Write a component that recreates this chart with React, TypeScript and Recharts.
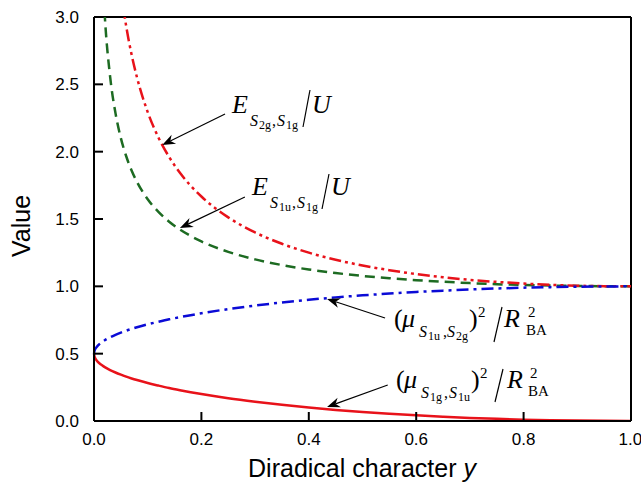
import React from "react";
import { LineChart, Line, XAxis, YAxis, ReferenceLine } from "recharts";

// diradical character y
const ys = [0, 0.001, 0.002, 0.005, 0.01, 0.015, 0.02, 0.03, 0.04, 0.05, 0.06, 0.07, 0.08, 0.1, 0.12, 0.14, 0.16, 0.18, 0.2, 0.25, 0.3, 0.35, 0.4, 0.45, 0.5, 0.55, 0.6, 0.65, 0.7, 0.75, 0.8, 0.85, 0.9, 0.95, 1.0];

// (mu S1g,S1u)^2 / R^2  (red solid)
const muGU = [0.5, 0.478, 0.468, 0.45, 0.429, 0.414, 0.4, 0.378, 0.36, 0.344, 0.329, 0.316, 0.304, 0.282, 0.263, 0.245, 0.229, 0.214, 0.2, 0.169, 0.143, 0.12, 0.1, 0.082, 0.067, 0.054, 0.042, 0.032, 0.023, 0.016, 0.01, 0.006, 0.003, 0.001, 0];
// (mu S1u,S2g)^2 / R^2  (blue dash-dot)
const muUG = [0.5, 0.522, 0.532, 0.55, 0.571, 0.586, 0.6, 0.622, 0.64, 0.656, 0.671, 0.684, 0.696, 0.718, 0.737, 0.755, 0.771, 0.786, 0.8, 0.831, 0.857, 0.88, 0.9, 0.918, 0.933, 0.946, 0.958, 0.968, 0.977, 0.984, 0.99, 0.994, 0.997, 0.999, 1.0];
// E S1u,S1g / U  (green dashed)
const eS1u = [null, null, null, null, null, 3.398, 3.013, 2.557, 2.286, 2.101, 1.966, 1.86, 1.776, 1.647, 1.553, 1.48, 1.422, 1.374, 1.333, 1.256, 1.2, 1.158, 1.125, 1.099, 1.077, 1.06, 1.046, 1.034, 1.024, 1.016, 1.01, 1.006, 1.003, 1.001, 1.0];
// E S2g,S1g / U  (red dash-dot-dot)
const eS2g = [null, null, null, null, null, null, null, null, 3.571, 3.203, 2.931, 2.721, 2.552, 2.294, 2.105, 1.96, 1.843, 1.747, 1.667, 1.512, 1.4, 1.316, 1.25, 1.197, 1.155, 1.12, 1.091, 1.068, 1.048, 1.033, 1.021, 1.011, 1.005, 1.001, 1.0];

const xTicks = [0, 0.2, 0.4, 0.6, 0.8, 1.0];
const yTicks = [0, 0.5, 1.0, 1.5, 2.0, 2.5, 3.0];

// annotation arrows, [fromX, fromY, toX, toY] in data units
const arrows = [
  [0.244, 2.28, 0.127, 2.05],
  [0.281, 1.663, 0.16, 1.433],
  [0.542, 0.765, 0.434, 0.906],
  [0.547, 0.267, 0.434, 0.104],
];

const rows = ys.map((y, i) => ({ y, muGU: muGU[i], muUG: muUG[i], eS1u: eS1u[i], eS2g: eS2g[i] }));

const RED = "#e8121a";
const GREEN = "#1d6b22";
const BLUE = "#0b0bd6";
const SANS = "'Liberation Sans', Arial, sans-serif";
const SERIF = "'Liberation Serif', 'Times New Roman', serif";

const ArrowShape = (p: any) => {
  const { x1, y1, x2, y2 } = p;
  const a = Math.atan2(y2 - y1, x2 - x1);
  const L = 13, W = 5, N = 9;
  const bx = x2 - L * Math.cos(a), by = y2 - L * Math.sin(a);
  const nx = x2 - N * Math.cos(a), ny = y2 - N * Math.sin(a);
  const px = -Math.sin(a) * W, py = Math.cos(a) * W;
  return (
    <g>
      <line x1={x1} y1={y1} x2={nx} y2={ny} stroke="#000" strokeWidth={1.2} />
      <polygon points={`${x2},${y2} ${bx + px},${by + py} ${nx},${ny} ${bx - px},${by - py}`} fill="#000" />
    </g>
  );
};

const it = { fontFamily: SERIF, fontStyle: "italic" as const };
const rm = { fontFamily: SERIF };

function Annotations() {
  return (
    <svg width={641} height={485} style={{ position: "absolute", left: 0, top: 0, pointerEvents: "none" }}>
      {/* axis titles */}
      <text x={362} y={477} textAnchor="middle" fontFamily={SANS} fontSize={25} fill="#000">
        Diradical character <tspan fontStyle="italic">y</tspan>
      </text>
      <text x={0} y={0} transform="translate(30 226) rotate(-90)" textAnchor="middle" fontFamily={SANS} fontSize={25} fill="#000">Value</text>

      {/* E S2g,S1g / U */}
      <g fill="#000">
        <text x={232} y={113} fontSize={26} {...it}>E</text>
        <text x={250} y={126} fontSize={16} {...it}>S</text>
        <text x={259} y={129} fontSize={12} {...rm}>2g</text>
        <text x={272} y={126} fontSize={16} {...rm}>,</text>
        <text x={277} y={126} fontSize={16} {...it}>S</text>
        <text x={286} y={129} fontSize={12} {...rm}>1g</text>
        <line x1={310} y1={90} x2={303} y2={127} stroke="#000" strokeWidth={1.2} />
        <text x={312} y={113} fontSize={26} {...it}>U</text>
      </g>

      {/* E S1u,S1g / U */}
      <g fill="#000">
        <text x={252} y={195} fontSize={26} {...it}>E</text>
        <text x={270} y={208} fontSize={16} {...it}>S</text>
        <text x={279} y={211} fontSize={12} {...rm}>1u</text>
        <text x={292} y={208} fontSize={16} {...rm}>,</text>
        <text x={297} y={208} fontSize={16} {...it}>S</text>
        <text x={306} y={211} fontSize={12} {...rm}>1g</text>
        <line x1={329} y1={174} x2={322} y2={209} stroke="#000" strokeWidth={1.2} />
        <text x={331} y={195} fontSize={26} {...it}>U</text>
      </g>

      {/* (mu S1u,S2g)^2 / R_BA^2 */}
      <g fill="#000">
        <text x={394} y={327} fontSize={26} {...rm}>(</text>
        <text x={402} y={327} fontSize={26} {...it}>μ</text>
        <text x={419} y={337} fontSize={16} {...it}>S</text>
        <text x={428} y={340} fontSize={12} {...rm}>1u</text>
        <text x={443} y={337} fontSize={16} {...rm}>,</text>
        <text x={447} y={337} fontSize={16} {...it}>S</text>
        <text x={456} y={340} fontSize={12} {...rm}>2g</text>
        <text x={469} y={327} fontSize={26} {...rm}>)</text>
        <text x={478} y={317} fontSize={15} {...rm}>2</text>
        <line x1={502} y1={307} x2={494} y2={342} stroke="#000" strokeWidth={1.2} />
        <text x={504} y={327} fontSize={26} {...it}>R</text>
        <text x={528} y={317} fontSize={15} {...rm}>2</text>
        <text x={526} y={335} fontSize={15} {...rm}>BA</text>
      </g>

      {/* (mu S1g,S1u)^2 / R_BA^2 */}
      <g fill="#000">
        <text x={396} y={388} fontSize={26} {...rm}>(</text>
        <text x={404} y={388} fontSize={26} {...it}>μ</text>
        <text x={421} y={398} fontSize={16} {...it}>S</text>
        <text x={430} y={401} fontSize={12} {...rm}>1g</text>
        <text x={444} y={398} fontSize={16} {...rm}>,</text>
        <text x={449} y={398} fontSize={16} {...it}>S</text>
        <text x={458} y={401} fontSize={12} {...rm}>1u</text>
        <text x={471} y={388} fontSize={26} {...rm}>)</text>
        <text x={480} y={378} fontSize={15} {...rm}>2</text>
        <line x1={503} y1={369} x2={495} y2={402} stroke="#000" strokeWidth={1.2} />
        <text x={507} y={388} fontSize={26} {...it}>R</text>
        <text x={530} y={378} fontSize={15} {...rm}>2</text>
        <text x={528} y={396} fontSize={15} {...rm}>BA</text>
      </g>
    </svg>
  );
}

export default function App() {
  return (
    <div style={{ position: "absolute", left: 0, top: 0, width: 641, height: 485, background: "#fff" }}>
      <LineChart width={641} height={485} data={rows} margin={{ top: 17, right: 10, bottom: 34, left: 34 }}>
        <XAxis
          dataKey="y" type="number" domain={[0, 1]} ticks={xTicks} height={30}
          tickFormatter={(v: number) => v.toFixed(1)}
          tickSize={-9} tickMargin={21}
          stroke="#000" strokeWidth={2}
          tick={{ fill: "#000", fontSize: 17, fontFamily: SANS }}
        />
        <YAxis
          type="number" domain={[0, 3]} ticks={yTicks} width={60} allowDataOverflow
          tickFormatter={(v: number) => v.toFixed(1)}
          tickSize={-9} tickMargin={24}
          stroke="#000" strokeWidth={2}
          tick={{ fill: "#000", fontSize: 17, fontFamily: SANS }}
        />
        <ReferenceLine y={3} stroke="#000" strokeWidth={2} />
        <ReferenceLine x={1} stroke="#000" strokeWidth={2} />

        <Line dataKey="eS1u" type="monotone" stroke={GREEN} strokeWidth={2.5} strokeDasharray="10 6" dot={false} isAnimationActive={false} />
        <Line dataKey="eS2g" type="monotone" stroke={RED} strokeWidth={2.5} strokeDasharray="12 4 3 4 3 4" dot={false} isAnimationActive={false} />
        <Line dataKey="muUG" type="monotone" stroke={BLUE} strokeWidth={2.5} strokeDasharray="12 5 3 5" dot={false} isAnimationActive={false} />
        <Line dataKey="muGU" type="monotone" stroke={RED} strokeWidth={2.5} dot={false} isAnimationActive={false} />

        {arrows.map((a, i) => (
          <ReferenceLine key={i} segment={[{ x: a[0], y: a[1] }, { x: a[2], y: a[3] }]} shape={ArrowShape} ifOverflow="visible" />
        ))}
      </LineChart>
      <Annotations />
    </div>
  );
}
